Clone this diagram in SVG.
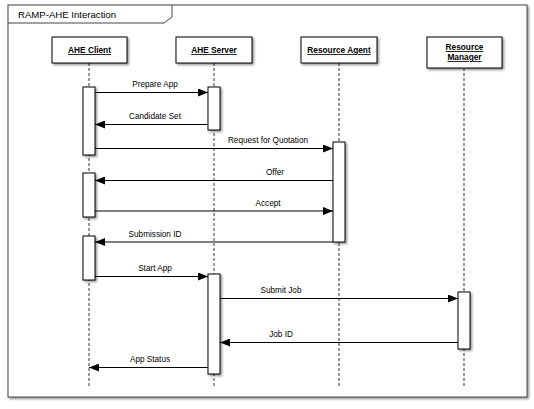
<svg xmlns="http://www.w3.org/2000/svg" width="534" height="409" viewBox="0 0 534 409">
<style>
text{font-family:"Liberation Sans",Arial,sans-serif;fill:#000}
.lbl{font-size:8.2px;text-anchor:middle}
.pn{font-size:8.3px;font-weight:bold;text-anchor:middle;text-decoration:underline}
.box{fill:#fff;stroke:#000;stroke-width:1;filter:url(#sh)}
.act{fill:#fff;stroke:#000;stroke-width:1;filter:url(#sh)}
.life{stroke:#333;stroke-width:1;stroke-dasharray:3,2;fill:none}
.msg{stroke:#000;stroke-width:1;fill:none;marker-end:url(#ah)}
</style>
<defs>
<filter id="sh" x="-30%" y="-30%" width="160%" height="160%">
<feDropShadow dx="1.5" dy="1.5" stdDeviation="1" flood-color="#000" flood-opacity="0.45"/>
</filter>
<marker id="ah" viewBox="0 0 10 8" refX="10" refY="4" markerWidth="10" markerHeight="8" markerUnits="userSpaceOnUse" orient="auto">
<path d="M0,0 L10,4 L0,8 Z" fill="#000"/>
</marker>
</defs>
<rect width="534" height="409" fill="#fff"/>
<g id="frame">
<rect x="8" y="5" width="519" height="392" fill="#fff" stroke="#444" stroke-width="1" filter="url(#sh)"/>
<path d="M8,23 L164,23 L172,17 L172,5" fill="none" stroke="#444" stroke-width="1"/>
<text x="18" y="18" font-size="9.6px">RAMP-AHE Interaction</text>
</g>
<g id="lifelines">
<line class="life" x1="89" y1="63" x2="89" y2="387"/>
<line class="life" x1="214" y1="63" x2="214" y2="387"/>
<line class="life" x1="339" y1="63" x2="339" y2="387"/>
<line class="life" x1="464" y1="68" x2="464" y2="387"/>
</g>
<g id="client">
<rect class="box" x="52" y="37" width="75" height="26"/>
<text class="pn" x="89.5" y="53">AHE Client</text>
</g>
<g id="server">
<rect class="box" x="176" y="37" width="76" height="26"/>
<text class="pn" x="214" y="53">AHE Server</text>
</g>
<g id="agent">
<rect class="box" x="301" y="37" width="76" height="26"/>
<text class="pn" x="339" y="53">Resource Agent</text>
</g>
<g id="manager">
<rect class="box" x="427" y="37" width="75" height="31"/>
<text class="pn" x="464.5" y="50">Resource</text>
<text class="pn" x="464.5" y="60">Manager</text>
</g>
<g id="activations">
<rect class="act" x="83" y="87" width="12" height="68"/>
<rect class="act" x="208" y="87" width="12" height="43"/>
<rect class="act" x="333" y="142" width="12" height="100"/>
<rect class="act" x="83" y="173" width="12" height="44"/>
<rect class="act" x="83" y="236" width="12" height="44"/>
<rect class="act" x="208" y="274" width="12" height="100"/>
<rect class="act" x="458" y="292" width="12" height="57"/>
</g>
<g id="connectors">
<line class="msg" x1="95" y1="92.5" x2="208" y2="92.5"/>
<line class="msg" x1="208" y1="124.5" x2="95" y2="124.5"/>
<line class="msg" x1="95" y1="148.5" x2="333" y2="148.5"/>
<line class="msg" x1="333" y1="180.5" x2="95" y2="180.5"/>
<line class="msg" x1="95" y1="211" x2="333" y2="211"/>
<line class="msg" x1="333" y1="242" x2="95" y2="242"/>
<line class="msg" x1="95" y1="276.5" x2="208" y2="276.5"/>
<line class="msg" x1="220" y1="298.5" x2="458" y2="298.5"/>
<line class="msg" x1="458" y1="342.5" x2="220" y2="342.5"/>
<line class="msg" x1="208" y1="367.5" x2="89" y2="367.5"/>
</g>
<g id="labels">
<text class="lbl" x="155" y="87">Prepare App</text>
<text class="lbl" x="155" y="118.5">Candidate Set</text>
<text class="lbl" x="268" y="143">Request for Quotation</text>
<text class="lbl" x="275" y="175">Offer</text>
<text class="lbl" x="268" y="205.5">Accept</text>
<text class="lbl" x="155" y="236.5">Submission ID</text>
<text class="lbl" x="155" y="271">Start App</text>
<text class="lbl" x="281" y="293">Submit Job</text>
<text class="lbl" x="281" y="336.5">Job ID</text>
<text class="lbl" x="150" y="361.5">App Status</text>
</g>
</svg>
